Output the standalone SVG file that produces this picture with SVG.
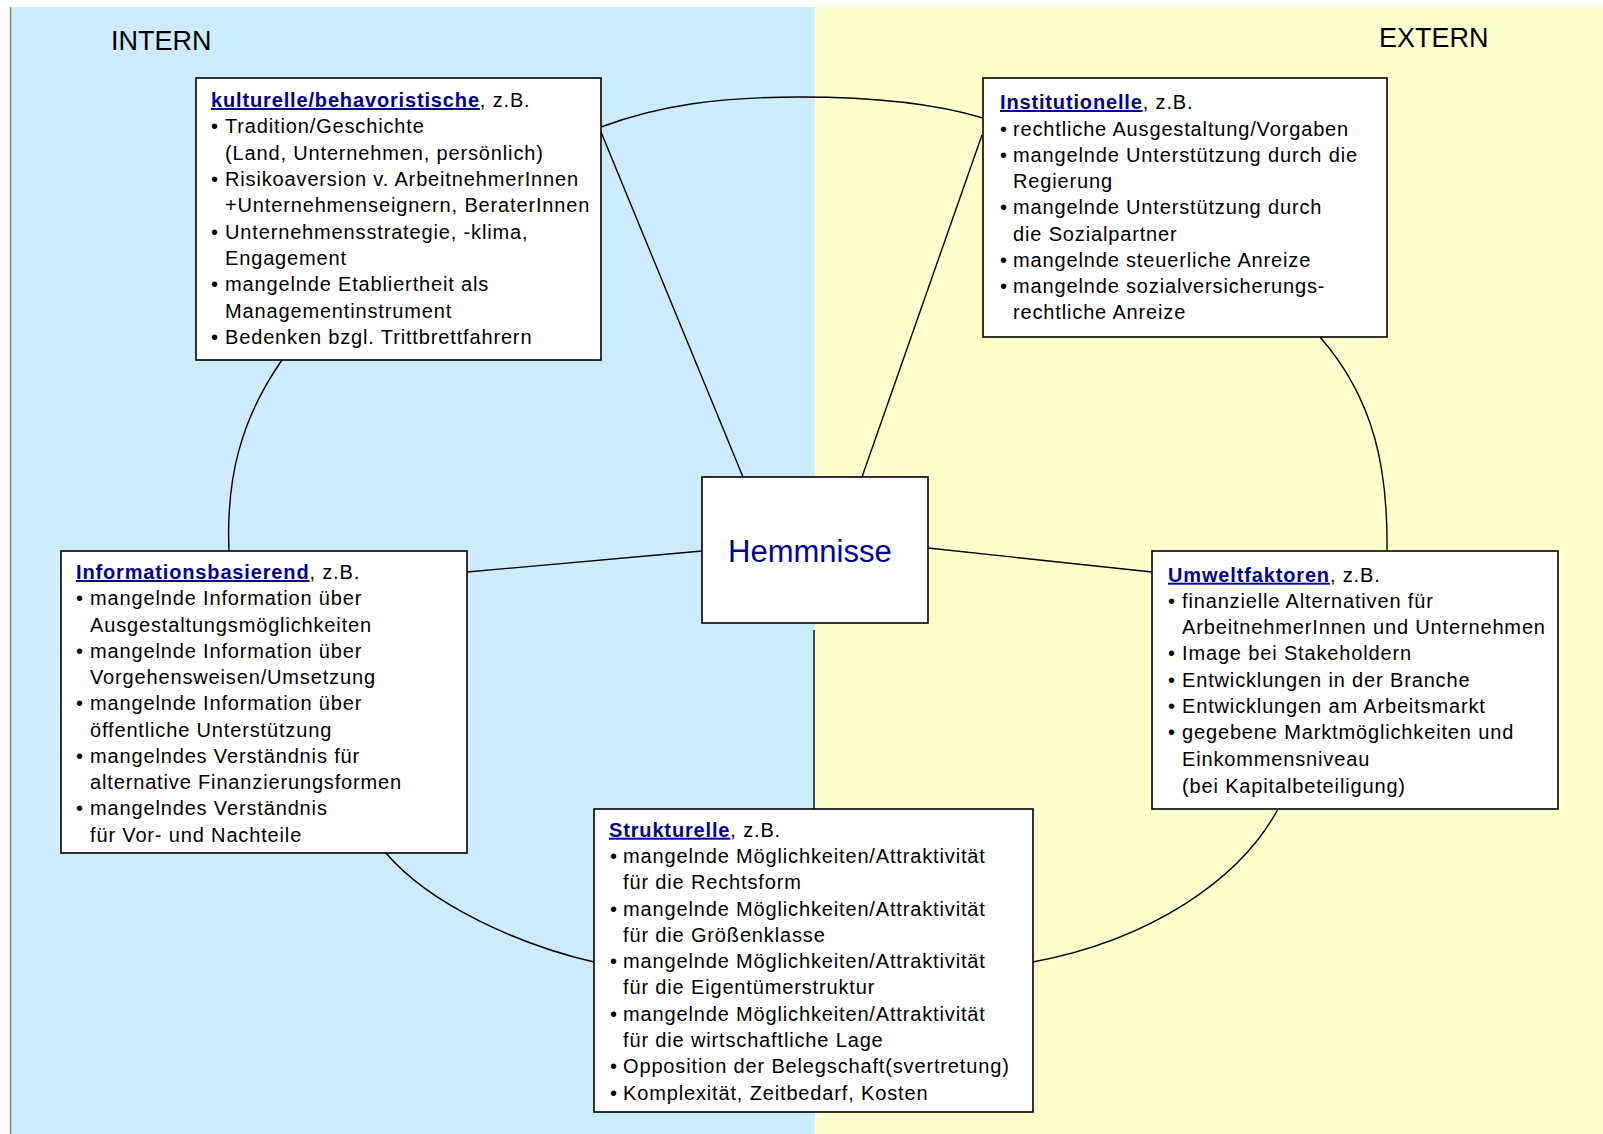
<svg xmlns="http://www.w3.org/2000/svg" width="1603" height="1134" viewBox="0 0 1603 1134">
<style>
.bx{fill:#fff;stroke:#000;stroke-width:1.6}
.tx{font-family:"Liberation Sans",Arial,sans-serif;font-size:20px;letter-spacing:0.85px;fill:#000}
.ti{font-weight:bold;fill:#000099;text-decoration:underline}
.hd{font-family:"Liberation Sans",Arial,sans-serif;font-size:27px;fill:#000}
.cn{fill:none;stroke:#000;stroke-width:1.4}
</style>
<rect x="0" y="0" width="1603" height="1134" fill="#fff"/>
<rect x="10" y="7" width="805" height="1127" fill="#CCEBFF"/>
<rect x="815" y="7" width="788" height="1127" fill="#FFFFCC"/>
<line x1="10.5" y1="7" x2="10.5" y2="1134" stroke="#888" stroke-width="1.5"/>
<text class="hd" x="111" y="50">INTERN</text>
<text class="hd" x="1379" y="47">EXTERN</text>
<g id="connectors">
<path class="cn" d="M601,127 C660,105 720,97 800,97 C880,97 940,105 983,118"/>
<path class="cn" d="M1320,337 C1375,400 1388,470 1387,551"/>
<path class="cn" d="M1278,809 C1240,880 1150,940 1033,962"/>
<path class="cn" d="M594,962 C520,945 430,905 386,853"/>
<path class="cn" d="M229,551 C226,480 240,420 282,360"/>
<line class="cn" x1="601" y1="132" x2="743" y2="477"/>
<line class="cn" x1="982" y1="135" x2="862" y2="477"/>
<line class="cn" x1="467" y1="572" x2="702" y2="551"/>
<line class="cn" x1="928" y1="548" x2="1152" y2="572"/>
<line class="cn" x1="814" y1="630" x2="814" y2="821"/>
</g>
<g id="hemmnisse">
<rect class="bx" x="702" y="477" width="226" height="146"/>
<text x="728" y="562" font-family="Liberation Sans,Arial,sans-serif" font-size="31" fill="#00009c">Hemmnisse</text>
</g>
<g id="kulturelle">
<rect class="bx" x="196" y="78" width="405" height="282"/>
<text class="tx"><tspan x="211" y="107"><tspan class="ti">kulturelle/behavoristische</tspan>, z.B.</tspan>
<tspan x="211" y="133">•</tspan><tspan x="225" y="133">Tradition/Geschichte</tspan>
<tspan x="225" y="159.5">(Land, Unternehmen, persönlich)</tspan>
<tspan x="211" y="186">•</tspan><tspan x="225" y="186">Risikoaversion v. ArbeitnehmerInnen</tspan>
<tspan x="225" y="212">+Unternehmenseignern, BeraterInnen</tspan>
<tspan x="211" y="238.5">•</tspan><tspan x="225" y="238.5">Unternehmensstrategie, -klima,</tspan>
<tspan x="225" y="265">Engagement</tspan>
<tspan x="211" y="291">•</tspan><tspan x="225" y="291">mangelnde Etabliertheit als</tspan>
<tspan x="225" y="317.5">Managementinstrument</tspan>
<tspan x="211" y="344">•</tspan><tspan x="225" y="344">Bedenken bzgl. Trittbrettfahrern</tspan></text>
</g>
<g id="institutionelle">
<rect class="bx" x="983" y="78" width="404" height="259"/>
<text class="tx"><tspan x="1000" y="109"><tspan class="ti">Institutionelle</tspan>, z.B.</tspan>
<tspan x="1000" y="135.7">•</tspan><tspan x="1013" y="135.7">rechtliche Ausgestaltung/Vorgaben</tspan>
<tspan x="1000" y="162.3">•</tspan><tspan x="1013" y="162.3">mangelnde Unterstützung durch die</tspan>
<tspan x="1013" y="188.3">Regierung</tspan>
<tspan x="1000" y="214.3">•</tspan><tspan x="1013" y="214.3">mangelnde Unterstützung durch</tspan>
<tspan x="1013" y="240.7">die Sozialpartner</tspan>
<tspan x="1000" y="266.7">•</tspan><tspan x="1013" y="266.7">mangelnde steuerliche Anreize</tspan>
<tspan x="1000" y="293.3">•</tspan><tspan x="1013" y="293.3">mangelnde sozialversicherungs-</tspan>
<tspan x="1013" y="319">rechtliche Anreize</tspan></text>
</g>
<g id="informationsbasierend">
<rect class="bx" x="61" y="551" width="406" height="302"/>
<text class="tx"><tspan x="76" y="579"><tspan class="ti">Informationsbasierend</tspan>, z.B.</tspan>
<tspan x="76" y="605">•</tspan><tspan x="90" y="605">mangelnde Information über</tspan>
<tspan x="90" y="631.7">Ausgestaltungsmöglichkeiten</tspan>
<tspan x="76" y="657.7">•</tspan><tspan x="90" y="657.7">mangelnde Information über</tspan>
<tspan x="90" y="684">Vorgehensweisen/Umsetzung</tspan>
<tspan x="76" y="710.3">•</tspan><tspan x="90" y="710.3">mangelnde Information über</tspan>
<tspan x="90" y="736.7">öffentliche Unterstützung</tspan>
<tspan x="76" y="762.7">•</tspan><tspan x="90" y="762.7">mangelndes Verständnis für</tspan>
<tspan x="90" y="789.3">alternative Finanzierungsformen</tspan>
<tspan x="76" y="815.3">•</tspan><tspan x="90" y="815.3">mangelndes Verständnis</tspan>
<tspan x="90" y="841.7">für Vor- und Nachteile</tspan></text>
</g>
<g id="umweltfaktoren">
<rect class="bx" x="1152" y="551" width="406" height="258"/>
<text class="tx"><tspan x="1168" y="581.7"><tspan class="ti">Umweltfaktoren</tspan>, z.B.</tspan>
<tspan x="1168" y="607.7">•</tspan><tspan x="1182" y="607.7">finanzielle Alternativen für</tspan>
<tspan x="1182" y="634.3">ArbeitnehmerInnen und Unternehmen</tspan>
<tspan x="1168" y="660">•</tspan><tspan x="1182" y="660">Image bei Stakeholdern</tspan>
<tspan x="1168" y="686.7">•</tspan><tspan x="1182" y="686.7">Entwicklungen in der Branche</tspan>
<tspan x="1168" y="713.3">•</tspan><tspan x="1182" y="713.3">Entwicklungen am Arbeitsmarkt</tspan>
<tspan x="1168" y="739.3">•</tspan><tspan x="1182" y="739.3">gegebene Marktmöglichkeiten und</tspan>
<tspan x="1182" y="766">Einkommensniveau</tspan>
<tspan x="1182" y="792.7">(bei Kapitalbeteiligung)</tspan></text>
</g>
<g id="strukturelle">
<rect class="bx" x="594" y="809" width="439" height="303"/>
<text class="tx"><tspan x="609" y="836.7"><tspan class="ti">Strukturelle</tspan>, z.B.</tspan>
<tspan x="610" y="863">•</tspan><tspan x="623" y="863">mangelnde Möglichkeiten/Attraktivität</tspan>
<tspan x="623" y="889">für die Rechtsform</tspan>
<tspan x="610" y="916">•</tspan><tspan x="623" y="916">mangelnde Möglichkeiten/Attraktivität</tspan>
<tspan x="623" y="941.7">für die Größenklasse</tspan>
<tspan x="610" y="968">•</tspan><tspan x="623" y="968">mangelnde Möglichkeiten/Attraktivität</tspan>
<tspan x="623" y="994">für die Eigentümerstruktur</tspan>
<tspan x="610" y="1021">•</tspan><tspan x="623" y="1021">mangelnde Möglichkeiten/Attraktivität</tspan>
<tspan x="623" y="1046.7">für die wirtschaftliche Lage</tspan>
<tspan x="610" y="1073">•</tspan><tspan x="623" y="1073">Opposition der Belegschaft(svertretung)</tspan>
<tspan x="610" y="1100">•</tspan><tspan x="623" y="1100">Komplexität, Zeitbedarf, Kosten</tspan></text>
</g>
</svg>
